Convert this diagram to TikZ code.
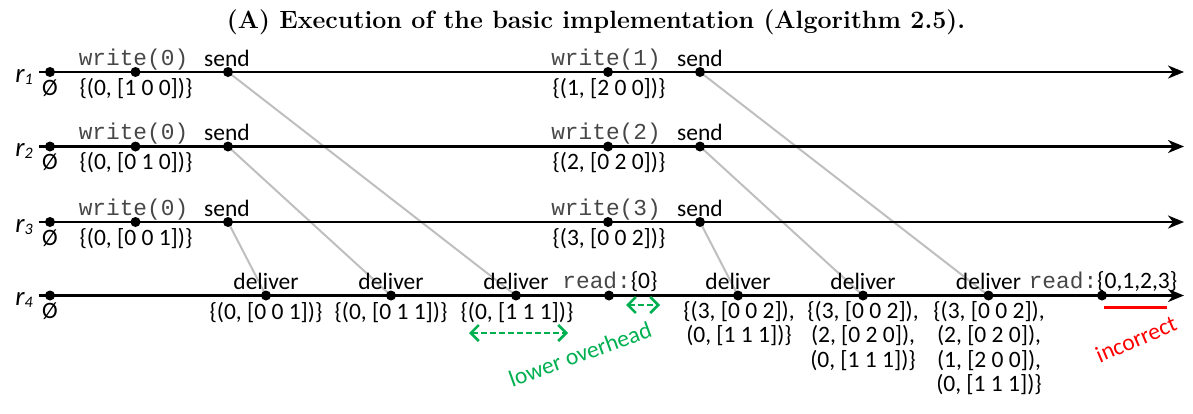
\documentclass[tikz,border=0pt]{standalone}
\usepackage{fontspec}
\setsansfont{Carlito}
\setmonofont{Liberation Mono}
\usetikzlibrary{arrows.meta}
\definecolor{msg}{HTML}{BFBFBF}
\definecolor{grn}{HTML}{00B050}
\definecolor{rd}{HTML}{FF0000}
\newcommand{\mlines}[1]{\vtop{\halign{\hfil##\hfil\cr#1\crcr}}}
\newcommand{\mt}[1]{{\ttfamily\fontsize{22.8}{24.5}\selectfont\color{black!72}#1}}
\begin{document}
\begin{tikzpicture}[x=1pt,y=-1pt,
  every node/.style={font=\sffamily\fontsize{23.5}{24.5}\selectfont, inner sep=0pt},
  dot/.style={circle,fill=black,minimum size=10pt,inner sep=0pt},
  tline/.style={line width=2.5pt,-{Stealth[length=16pt,width=13pt,inset=5pt]}},
  msgline/.style={draw=msg,line width=2pt},
  lab/.style={anchor=base},
  rlab/.style={anchor=base,font=\sffamily\itshape\fontsize{27}{30}\selectfont},
  gdash/.style={draw=grn,line width=2.5pt,dash pattern=on 6pt off 3pt,
    {Straight Barb[length=8pt,width=16pt]}-{Straight Barb[length=8pt,width=16pt]}},
  note/.style={font=\sffamily\fontsize{23.5}{24.5}\selectfont}
]
\useasboundingbox (0,0) rectangle (1193,413);

\node[lab,font=\rmfamily\bfseries\fontsize{25}{30}\selectfont] (title) at (596,28)
  {(A) Execution of the basic implementation (Algorithm 2.5).};

% event coordinates
\foreach \k/\y in {1/72,2/146.5,3/222} {
  \coordinate (L\k) at (39,\y);
  \coordinate (E\k) at (1184,\y);
  \coordinate (A\k) at (50,\y);
  \coordinate (W\k) at (135.5,\y);
  \coordinate (S\k) at (228,\y);
  \coordinate (V\k) at (608,\y);
  \coordinate (T\k) at (700,\y);
}
\coordinate (L4) at (39,295.5);
\coordinate (E4) at (1184,295.5);
\coordinate (A4) at (50,295.5);
\coordinate (D1) at (266,295.5);
\coordinate (D2) at (391,295.5);
\coordinate (D3) at (516,295.5);
\coordinate (R1) at (609,295.5);
\coordinate (D4) at (738,295.5);
\coordinate (D5) at (863,295.5);
\coordinate (D6) at (988.5,295.5);
\coordinate (R2) at (1102,295.5);

% messages
\draw[msgline] (S1) -- (D3);
\draw[msgline] (S2) -- (D2);
\draw[msgline] (S3) -- (D1);
\draw[msgline] (T1) -- (D6);
\draw[msgline] (T2) -- (D5);
\draw[msgline] (T3) -- (D4);

% timelines
\foreach \k in {1,2,3,4} { \draw[tline] (L\k) -- (E\k); }

% dots
\foreach \k in {1,2,3} {
  \node[dot] (a\k) at (A\k) {};
  \node[dot] (w\k) at (W\k) {};
  \node[dot] (s\k) at (S\k) {};
  \node[dot] (v\k) at (V\k) {};
  \node[dot] (t\k) at (T\k) {};
}
\node[dot] (a4) at (A4) {};
\foreach \k in {1,...,6} { \node[dot] (d\k) at (D\k) {}; }
\node[dot] (rd1) at (R1) {};
\node[dot] (rd2) at (R2) {};

% process labels
\foreach \k/\y in {1/82,2/156.5,3/232,4/305.5} {
  \node[rlab] (r\k) at (24,\y) {r\raisebox{-2pt}{\fontsize{16}{18}\selectfont \k}};
  \node[lab] (o\k) at (50,\y+13) {Ø};
}

% r1..r3 labels
\foreach \k/\y/\b/\c in {1/72/1 0 0/1, 2/146.5/0 1 0/2, 3/222/0 0 1/3} {
  \node[lab] (wl\k) at (133.5,\y-7) {\mt{write(0)}};
  \node[lab] (sl\k) at (227,\y-6) {send};
  \node[lab] (bl\k) at (136,\y+23) {\{(0, [\b])\}};
  \node[lab] (vl\k) at (606,\y-7) {\mt{write(\c)}};
  \node[lab] (tl\k) at (700,\y-6) {send};
}
\node[lab] (ul1) at (609,95) {\{(1, [2 0 0])\}};
\node[lab] (ul2) at (609,169.5) {\{(2, [0 2 0])\}};
\node[lab] (ul3) at (609,245) {\{(3, [0 0 2])\}};

% r4 labels
\foreach \k/\x in {1/266,2/391,3/516,4/738,5/863,6/988.5} {
  \node[lab] (dl\k) at (\x,289.5) {deliver};
}
\node[lab] (db1) at (266,319) {\{(0, [0 0 1])\}};
\node[lab] (db2) at (391,319) {\{(0, [0 1 1])\}};
\node[lab] (db3) at (517,319) {\{(0, [1 1 1])\}};
\node[lab] (db4) at (739,318) {\mlines{\{(3, [0 0 2]),\cr (0, [1 1 1])\}}};
\node[lab] (db5) at (863,318) {\mlines{\{(3, [0 0 2]),\cr (2, [0 2 0]),\cr (0, [1 1 1])\}}};
\node[lab] (db6) at (989,318) {\mlines{\{(3, [0 0 2]),\cr (2, [0 2 0]),\cr (1, [2 0 0]),\cr (0, [1 1 1])\}}};
\node[lab] (rl1) at (610,288.5) {\mt{read:}\{0\}};
\node[lab] (rl2) at (1103,288.5) {\mt{read:}\{0,1,2,3\}};

% annotations
\coordinate (g1a) at (469,333);
\coordinate (g1b) at (568,333);
\coordinate (g2a) at (626,305);
\coordinate (g2b) at (660,305);
\draw[gdash] (g1a) -- (g1b);
\draw[gdash] (g2a) -- (g2b);
\node[note,text=grn,rotate=20] (lo) at (580,354) {lower overhead};
\coordinate (ra) at (1104,307);
\coordinate (rb) at (1167,307);
\draw[rd,line width=3pt] (ra) -- (rb);
\node[note,text=rd,rotate=23] (inc) at (1136,339) {incorrect};
\end{tikzpicture}
\end{document}
